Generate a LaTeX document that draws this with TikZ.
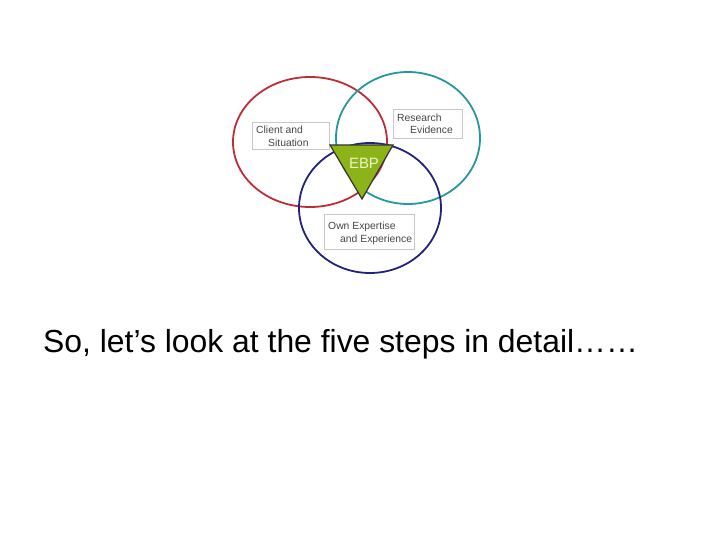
\documentclass[tikz,border=0pt]{standalone}
\usepackage{fontspec}
\setmainfont{Liberation Sans}
\usetikzlibrary{shapes.geometric}
\definecolor{cred}{RGB}{190,45,55}
\definecolor{cteal}{RGB}{40,150,160}
\definecolor{cblue}{RGB}{35,35,125}
\definecolor{cgreen}{RGB}{140,180,25}
\definecolor{cbox}{RGB}{200,200,200}
\definecolor{ctext}{RGB}{70,70,70}
\definecolor{cebp}{RGB}{235,245,205}
\begin{document}
\begin{tikzpicture}[x=1bp,y=1bp,
  ring/.style={draw, line width=1.8bp, ellipse, inner sep=0pt, outer sep=0pt},
  labelbox/.style={draw=cbox, line width=0.8bp, fill=white, inner sep=0pt, outer sep=0pt, anchor=north west},
  labeltext/.style={font=\fontsize{10.4}{12}\selectfont, text=ctext, anchor=base west, inner sep=0pt},
  ebpshape/.style={fill=cgreen, draw=black!80, line width=1.2bp, line join=miter}
]
\useasboundingbox (0,0) rectangle (720,-540);
% circles
\node[ring, draw=cred, minimum width=154bp, minimum height=130bp] (red) at (310,-142) {};
\node[ring, draw=cteal, minimum width=144bp, minimum height=132bp] (teal) at (408,-138) {};
\node[ring, draw=cblue, minimum width=142bp, minimum height=130bp] (blue) at (370,-208) {};
% label boxes
\node[labelbox, minimum width=77bp, minimum height=27bp] (cbox) at (252,-122) {};
\node[labeltext] (c1) at (256,-134) {Client and};
\node[labeltext] (c2) at (268,-147) {Situation};
\node[labelbox, minimum width=69bp, minimum height=29bp] (rbox) at (393,-109) {};
\node[labeltext] (r1) at (397,-122) {Research};
\node[labeltext] (r2) at (410,-134) {Evidence};
\node[labelbox, minimum width=90bp, minimum height=35bp] (obox) at (324,-214) {};
\node[labeltext] (o1) at (328,-230) {Own Expertise};
\node[labeltext] (o2) at (340,-243) {and Experience};
% EBP triangle
\draw[ebpshape] (330,-145) -- (393,-145) -- (362,-199) -- cycle;
\node[inner sep=0pt, text=cebp, font=\fontsize{15}{17}\selectfont] (ebp) at (364,-163) {EBP};
% main text
\node[anchor=base west, inner sep=0pt, font=\fontsize{32}{38}\selectfont] (main) at (43,-352) {So, let’s look at the five steps in detail……};
\end{tikzpicture}
\end{document}
